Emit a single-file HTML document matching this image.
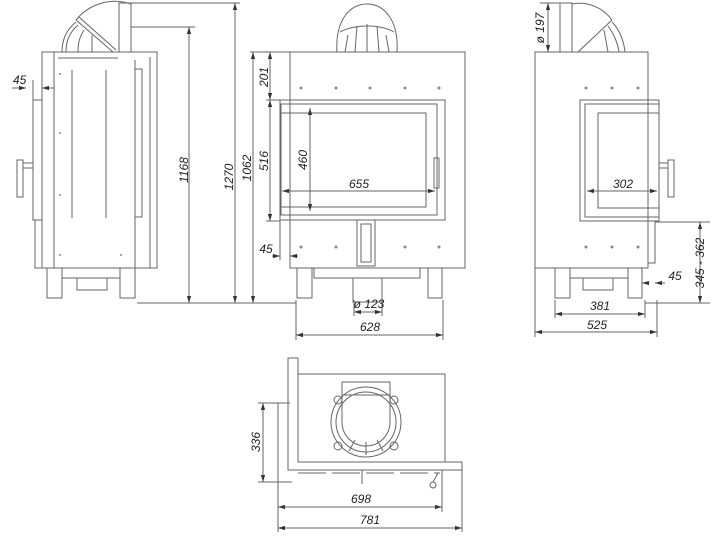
<!DOCTYPE html>
<html><head><meta charset="utf-8"><style>
html,body{margin:0;padding:0;background:#fff;}
svg{display:block;}
text{font-family:"Liberation Sans",sans-serif;font-style:italic;font-size:12px;fill:#222;}
</style></head><body>
<svg width="722" height="548" viewBox="0 0 722 548" xmlns="http://www.w3.org/2000/svg">
<defs>
<marker id="a" viewBox="0 0 10 10" refX="10" refY="5" markerWidth="7" markerHeight="7" orient="auto-start-reverse"><path d="M0,2 L10,5 L0,8z" fill="#333"/></marker>
</defs>
<g fill="none" stroke="#666" stroke-width="1">
<!-- LEFT VIEW -->
<rect x="42" y="52" width="115" height="216"/>
<line x1="54" y1="52" x2="54" y2="268"/>
<line x1="135" y1="60" x2="135" y2="268"/>
<line x1="150" y1="57" x2="150" y2="268"/>
<rect x="135" y="69" width="7" height="148"/>
<line x1="72" y1="70" x2="72" y2="218"/>
<line x1="106" y1="70" x2="106" y2="218"/>
<rect x="33" y="100" width="9" height="120"/>
<rect x="35" y="220" width="7" height="48"/>
<rect x="17" y="160" width="6" height="37"/>
<rect x="23" y="163" width="10" height="5"/>
<rect x="119" y="3" width="12" height="49"/>
<path d="M131,4 A50,50 0 0 0 76,20"/>
<line x1="76" y1="20" x2="113" y2="52"/>
<line x1="79" y1="17" x2="116" y2="50"/>
<path d="M62,52 C62,40 66,30 76,22 M66,52 C66,40 70,32 78,25 M78,52 C78,42 80,36 84,30 M92,52 L92,35"/>
<line x1="58" y1="58" x2="118" y2="58"/>
<rect x="47" y="268" width="15" height="30"/>
<rect x="120" y="268" width="15" height="30"/>
<rect x="62" y="268" width="58" height="10"/>
<rect x="77" y="278" width="30" height="12"/>
<line x1="131" y1="27" x2="195" y2="27"/>
<line x1="137" y1="303" x2="240" y2="303"/>
<line x1="189" y1="27" x2="189" y2="303" marker-start="url(#a)" marker-end="url(#a)"/>
<line x1="131" y1="3" x2="240" y2="3"/>
<line x1="12" y1="88" x2="26" y2="88" marker-end="url(#a)"/>
<line x1="54" y1="88" x2="42" y2="88" marker-end="url(#a)"/>
<line x1="33" y1="80" x2="33" y2="100"/>
<!-- FRONT VIEW -->
<line x1="235" y1="3" x2="235" y2="303" marker-start="url(#a)" marker-end="url(#a)"/>
<line x1="253" y1="52" x2="253" y2="303" marker-start="url(#a)" marker-end="url(#a)"/>
<line x1="250" y1="52" x2="290" y2="52"/>
<line x1="270" y1="52" x2="270" y2="100" marker-start="url(#a)" marker-end="url(#a)"/>
<line x1="270" y1="100" x2="270" y2="221" marker-start="url(#a)" marker-end="url(#a)"/>
<line x1="266" y1="100" x2="280" y2="100"/>
<line x1="266" y1="221" x2="280" y2="221"/>
<line x1="232" y1="303" x2="296" y2="303"/>
<rect x="290" y="52" width="175" height="216"/>
<rect x="280" y="100" width="165" height="120"/>
<rect x="281" y="104" width="156" height="111"/>
<rect x="281" y="113" width="145" height="94"/>
<rect x="434" y="158" width="5" height="30"/>
<path d="M337,52 C335,20 350,4 367,4 C384,4 399,20 397,52"/>
<path d="M340,32 C355,24 380,24 394,32"/>
<path d="M345,52 L348,35 M355,52 L357,26 M367,52 L367,24 M379,52 L377,26 M389,52 L386,35"/>
<rect x="357" y="220" width="18" height="46"/>
<rect x="361" y="224" width="10" height="38"/>
<rect x="314" y="268" width="106" height="10"/>
<rect x="353" y="278" width="29" height="24"/>
<rect x="297" y="268" width="15" height="30"/>
<rect x="428" y="268" width="14" height="30"/>
<line x1="310" y1="108" x2="310" y2="211" marker-start="url(#a)" marker-end="url(#a)"/>
<line x1="282" y1="191" x2="435" y2="191" marker-start="url(#a)" marker-end="url(#a)"/>
<line x1="272" y1="256" x2="280" y2="256" marker-end="url(#a)"/>
<line x1="298" y1="256" x2="290" y2="256" marker-end="url(#a)"/>
<line x1="280" y1="221" x2="280" y2="260"/>
<line x1="354" y1="312" x2="382" y2="312" marker-start="url(#a)" marker-end="url(#a)"/>
<line x1="354" y1="300" x2="354" y2="316"/><line x1="382" y1="300" x2="382" y2="316"/>
<line x1="296" y1="300" x2="296" y2="340"/><line x1="443" y1="300" x2="443" y2="340"/>
<line x1="296" y1="335" x2="443" y2="335" marker-start="url(#a)" marker-end="url(#a)"/>
<!-- RIGHT VIEW -->
<rect x="535" y="52" width="113" height="216"/>
<rect x="580" y="100" width="79" height="121"/>
<rect x="585" y="104" width="74" height="113"/>
<rect x="598" y="113" width="61" height="95"/>
<rect x="659" y="163" width="9" height="5"/>
<rect x="668" y="160" width="6" height="37"/>
<rect x="648" y="221" width="7" height="42"/>
<rect x="560" y="3" width="12" height="49"/>
<path d="M572,4 A40,40 0 0 1 612,20"/>
<line x1="612" y1="20" x2="578" y2="52"/>
<path d="M612,22 C620,30 624,42 625,52 M608,26 C614,34 618,44 619,52 M604,30 L608,52"/>
<rect x="555" y="268" width="15" height="30"/>
<rect x="628" y="268" width="14" height="30"/>
<rect x="570" y="268" width="58" height="10"/>
<rect x="583" y="278" width="30" height="12"/>
<line x1="540" y1="3" x2="572" y2="3"/>
<line x1="548" y1="3" x2="548" y2="52" marker-start="url(#a)" marker-end="url(#a)"/>
<line x1="587" y1="191" x2="657" y2="191" marker-start="url(#a)" marker-end="url(#a)"/>
<line x1="655" y1="222" x2="710" y2="222"/>
<line x1="645" y1="303" x2="710" y2="303"/>
<line x1="700" y1="222" x2="700" y2="303" marker-start="url(#a)" marker-end="url(#a)"/>
<line x1="642" y1="283" x2="648" y2="283" marker-start="url(#a)"/>
<line x1="665" y1="283" x2="655" y2="283" marker-end="url(#a)"/>
<line x1="555" y1="300" x2="555" y2="318"/><line x1="645" y1="300" x2="645" y2="318"/>
<line x1="555" y1="314" x2="645" y2="314" marker-start="url(#a)" marker-end="url(#a)"/>
<line x1="535" y1="268" x2="535" y2="337"/><line x1="657" y1="300" x2="657" y2="337"/>
<line x1="535" y1="332" x2="657" y2="332" marker-start="url(#a)" marker-end="url(#a)"/>
<!-- TOP VIEW -->
<path d="M288,358 L298,358 L298,462 L462,462 L462,470 L288,470 Z"/>
<rect x="298" y="374" width="147" height="88"/>
<circle cx="366" cy="422" r="35"/>
<circle cx="366" cy="422" r="30"/>
<path d="M342,382 L342,422 A24,24 0 0 0 390,422 L390,382 Z"/>
<line x1="342" y1="395" x2="390" y2="395"/>
<circle cx="338" cy="400" r="4"/><circle cx="394" cy="400" r="4"/>
<circle cx="338" cy="446" r="4"/><circle cx="394" cy="446" r="4"/>
<line x1="355" y1="440" x2="349" y2="451"/><line x1="366" y1="442" x2="366" y2="455"/><line x1="377" y1="440" x2="383" y2="451"/>
<line x1="298" y1="473" x2="440" y2="473" stroke-dasharray="28,6"/>
<line x1="433" y1="482" x2="438" y2="473"/><circle cx="433" cy="485" r="3"/>
<line x1="362" y1="470" x2="362" y2="484"/>
<line x1="258" y1="403" x2="290" y2="403"/>
<line x1="258" y1="482" x2="292" y2="482"/>
<line x1="263" y1="403" x2="263" y2="482" marker-start="url(#a)" marker-end="url(#a)"/>
<line x1="278" y1="403" x2="278" y2="532"/>
<line x1="442" y1="470" x2="442" y2="512"/>
<line x1="462" y1="470" x2="462" y2="532"/>
<line x1="278" y1="507" x2="442" y2="507" marker-start="url(#a)" marker-end="url(#a)"/>
<line x1="278" y1="528" x2="462" y2="528" marker-start="url(#a)" marker-end="url(#a)"/>
</g>
<g fill="#888">
<circle cx="301" cy="88" r="1.5"/><circle cx="336" cy="88" r="1.5"/><circle cx="370" cy="88" r="1.5"/><circle cx="405" cy="88" r="1.5"/><circle cx="439" cy="88" r="1.5"/>
<circle cx="301" cy="247" r="1.5"/><circle cx="336" cy="247" r="1.5"/><circle cx="405" cy="247" r="1.5"/><circle cx="439" cy="247" r="1.5"/>
<circle cx="586" cy="88" r="1.5"/><circle cx="612" cy="88" r="1.5"/><circle cx="638" cy="88" r="1.5"/>
<circle cx="586" cy="247" r="1.5"/><circle cx="612" cy="247" r="1.5"/><circle cx="638" cy="247" r="1.5"/>
<circle cx="60" cy="74" r="1"/><circle cx="60" cy="133" r="1"/><circle cx="60" cy="195" r="1"/><circle cx="60" cy="255" r="1"/><circle cx="121" cy="255" r="1"/>
</g>
<text x="13" y="84">45</text>
<text transform="translate(188,170) rotate(-90)" text-anchor="middle">1168</text>
<text transform="translate(233,177) rotate(-90)" text-anchor="middle">1270</text>
<text transform="translate(251,168) rotate(-90)" text-anchor="middle">1062</text>
<text transform="translate(268,77) rotate(-90)" text-anchor="middle">201</text>
<text transform="translate(268,161) rotate(-90)" text-anchor="middle">516</text>
<text transform="translate(307,160) rotate(-90)" text-anchor="middle">460</text>
<text x="359" y="188" text-anchor="middle">655</text>
<text x="266" y="253" text-anchor="middle">45</text>
<text x="369" y="308" text-anchor="middle">ø 123</text>
<text x="370" y="331" text-anchor="middle">628</text>
<text transform="translate(544,28) rotate(-90)" text-anchor="middle">ø 197</text>
<text x="623" y="188" text-anchor="middle">302</text>
<text x="675" y="280" text-anchor="middle">45</text>
<text transform="translate(704,263) rotate(-90)" text-anchor="middle">345 - 362</text>
<text x="600" y="310" text-anchor="middle">381</text>
<text x="597" y="329" text-anchor="middle">525</text>
<text transform="translate(260,442) rotate(-90)" text-anchor="middle">336</text>
<text x="361" y="503" text-anchor="middle">698</text>
<text x="370" y="524" text-anchor="middle">781</text>
</svg>
</body></html>
